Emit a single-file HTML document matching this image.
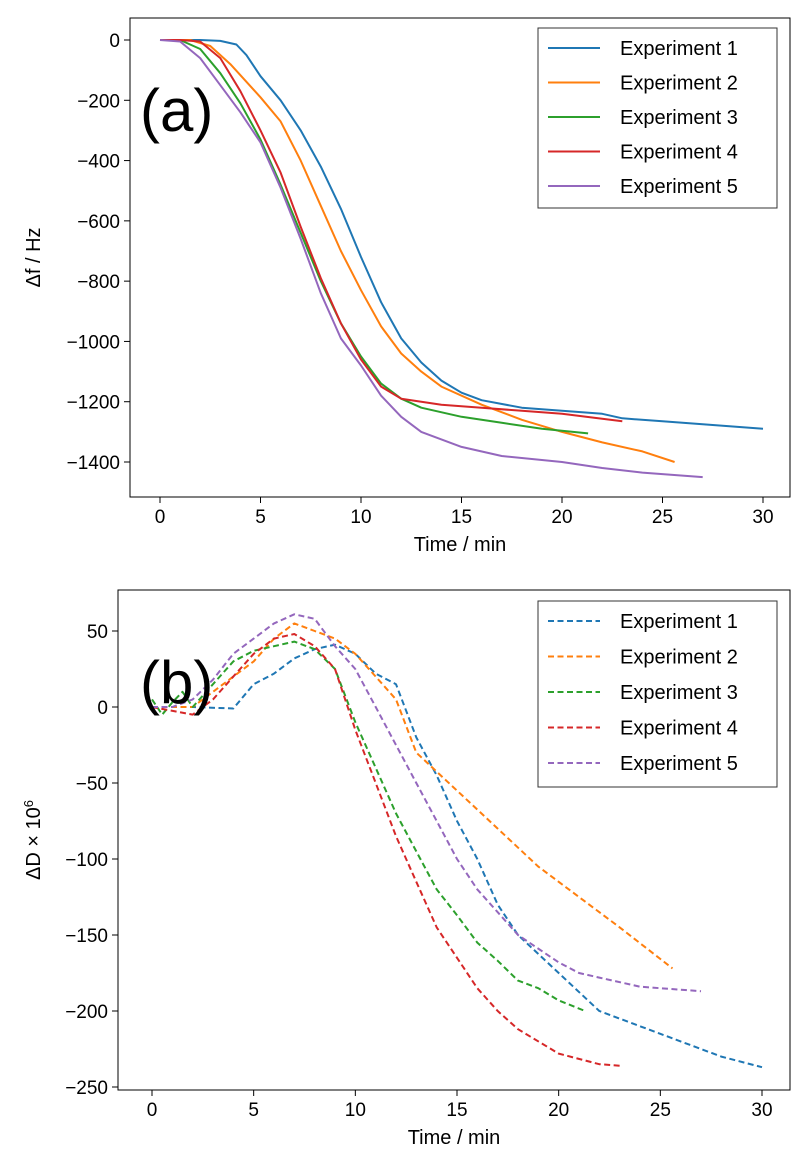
<!DOCTYPE html>
<html><head><meta charset="utf-8"><style>
body{margin:0;background:#fff;}
svg{display:block;font-family:"Liberation Sans",Arial,sans-serif;}
</style></head><body>
<svg id="fig" width="809" height="1170"></svg>
<script>
const seriesNames=["Experiment 1","Experiment 2","Experiment 3","Experiment 4","Experiment 5"];
const colors=["#1f77b4","#ff7f0e","#2ca02c","#d62728","#9467bd"];
const xTicks=[0,5,10,15,20,25,30];
const fTicks=[0,-200,-400,-600,-800,-1000,-1200,-1400];
const dTicks=[50,0,-50,-100,-150,-200,-250];
const fTime=[
[0,2,3,3.8,4.3,5,6,7,8,9,10,11,12,13,14,15,16,18,20,22,23,25,27,30],
[0,1.5,2.5,3.5,5,6,7,8,9,10,11,12,13,14,16,18,20,22,24,25.6],
[0,1,2,3,4,5,6,7,8,9,10,11,12,13,15,17,19,21.3],
[0,1,2,3,4,5,6,7,8,9,10,11,12,14,16,18,20,23],
[0,1,2,3,4,5,6,7,8,9,10,11,12,13,15,17,20,22,24,27]];
const fVals=[
[0,0,-3,-15,-50,-120,-200,-300,-420,-560,-720,-870,-990,-1070,-1130,-1170,-1195,-1220,-1230,-1240,-1255,-1265,-1275,-1290],
[0,0,-20,-80,-190,-270,-400,-550,-700,-830,-950,-1040,-1100,-1150,-1210,-1260,-1300,-1335,-1365,-1400],
[0,0,-30,-110,-210,-330,-480,-640,-800,-940,-1050,-1140,-1190,-1220,-1250,-1270,-1290,-1305],
[0,0,-5,-60,-170,-300,-440,-620,-790,-940,-1060,-1150,-1190,-1210,-1220,-1230,-1240,-1265],
[0,-5,-60,-150,-240,-340,-490,-660,-840,-990,-1080,-1180,-1250,-1300,-1350,-1380,-1400,-1420,-1435,-1450]];
const dTime=[
[0,2,4,5,6,7,8,9,10,11,12,13,14,15,16,17,18,20,22,25,28,30],
[0,2,3,4,5,6,7,8,9,10,11,12,13,15,17,19,21,23,25.6],
[0,0.5,1,1.5,2,3,4,5,6,7,8,9,10,11,12,13,14,15,16,17,18,19,20,21.3],
[0,2,3,4,5,6,7,8,9,10,11,12,13,14,15,16,17,18,20,22,23],
[0,1,2,3,4,5,6,7,8,9,10,11,12,13,14,15,16,17,18,20,21,22,24,27]];
const dVals=[
[0,0,-1,15,22,32,38,41,35,22,15,-20,-45,-75,-100,-130,-150,-175,-200,-215,-230,-237],
[0,0,10,20,30,45,55,50,45,35,20,5,-30,-55,-80,-105,-125,-145,-172],
[5,-5,3,10,0,15,30,37,40,43,38,25,-10,-40,-70,-95,-120,-137,-155,-167,-180,-185,-193,-200],
[0,-5,5,20,35,45,48,40,25,-15,-50,-85,-115,-145,-165,-185,-200,-212,-228,-235,-236],
[0,0,5,18,35,45,55,61,58,40,25,0,-25,-50,-75,-100,-120,-135,-150,-168,-175,-178,-184,-187]];

const NS="http://www.w3.org/2000/svg";
const svg=document.getElementById('fig');
function mk(tag,attrs,parent,text){const e=document.createElementNS(NS,tag);for(const k in attrs)e.setAttribute(k,attrs[k]);if(text!==undefined)e.textContent=text;(parent||svg).appendChild(e);return e;}

function panel(p){
  const g=mk('g',{});
  
  
  const sx=v=>p.x0+(v-0)*(p.x30-p.x0)/30;
  const sy=v=>p.yA+(v-p.vA)*(p.yB-p.yA)/(p.vB-p.vA);
  xTicks.forEach(t=>{
    const x=sx(t);
    mk('line',{x1:x,x2:x,y1:p.bottom,y2:p.bottom+6,stroke:'#000','stroke-width':1},g);
    const tx=mk('text',{x:x,y:p.bottom+26,'text-anchor':'middle','font-size':19},g,String(t));
    
    
  });
  p.yTicks.forEach(t=>{
    const y=sy(t);
    mk('line',{x1:p.left-6,x2:p.left,y1:y,y2:y,stroke:'#000','stroke-width':1},g);
    const tx=mk('text',{x:p.left-10,y:y+7,'text-anchor':'end','font-size':19},g,t<0?'\u2212'+(-t):String(t));
    
    
  });
  p.times.forEach((ts,i)=>{
    const d=ts.map((t,j)=>(j?'L':'M')+sx(t).toFixed(1)+','+sy(p.vals[i][j]).toFixed(1)).join('');
    const path=mk('path',{d:d,fill:'none',stroke:colors[i],'stroke-width':2,'stroke-dasharray':p.dash?'6,3.5':'none','stroke-linejoin':'round'},g);
    
    
  });
  const frame=mk('rect',{x:p.left,y:p.top,width:p.right-p.left,height:p.bottom-p.top,fill:'none',stroke:'#000','stroke-width':1},g);
  
  
  const xl=mk('text',{x:(p.left+p.right)/2,y:p.bottom+54,'text-anchor':'middle','font-size':20},g,'Time / min');
  
  
  const cy=(p.top+p.bottom)/2;
  const yl=mk('text',{x:40,y:cy,'text-anchor':'middle','font-size':20,transform:'rotate(-90 40 '+cy+')'},g);
  yl.innerHTML=p.ylabel;
  
  
  const lab=mk('text',{x:140,y:p.top+113,'font-size':60},g,p.letter);
  
  
  const lg=mk('g',{},g);
  
  
  mk('rect',{x:538,y:p.legTop,width:239,height:p.legH,fill:'#fff',stroke:'#333','stroke-width':1},lg);
  seriesNames.forEach((n,i)=>{
    const y=p.legTop+20+i*p.legStep;
    const e=mk('g',{},lg);
    
    
    mk('line',{x1:548,x2:600,y1:y,y2:y,stroke:colors[i],'stroke-width':2,'stroke-dasharray':p.dash?'6,3.5':'none'},e);
    mk('text',{x:620,y:y+7,'font-size':20},e,n);
  });
}
panel({name:'panel-a',left:130,right:790,top:18,bottom:497,x0:160,x30:763,vA:0,yA:40,vB:-1400,yB:462,
  yTicks:fTicks,times:fTime,vals:fVals,dash:false,ylabel:'Δf / Hz',letter:'(a)',legTop:28,legH:180,legStep:34.5});
panel({name:'panel-b',left:118,right:790,top:590,bottom:1090,x0:152,x30:762,vA:0,yA:707,vB:-250,yB:1087,
  yTicks:dTicks,times:dTime,vals:dVals,dash:true,ylabel:'ΔD × 10<tspan baseline-shift="super" font-size="13">6</tspan>',letter:'(b)',legTop:601,legH:186,legStep:35.5});
</script>
</body></html>
